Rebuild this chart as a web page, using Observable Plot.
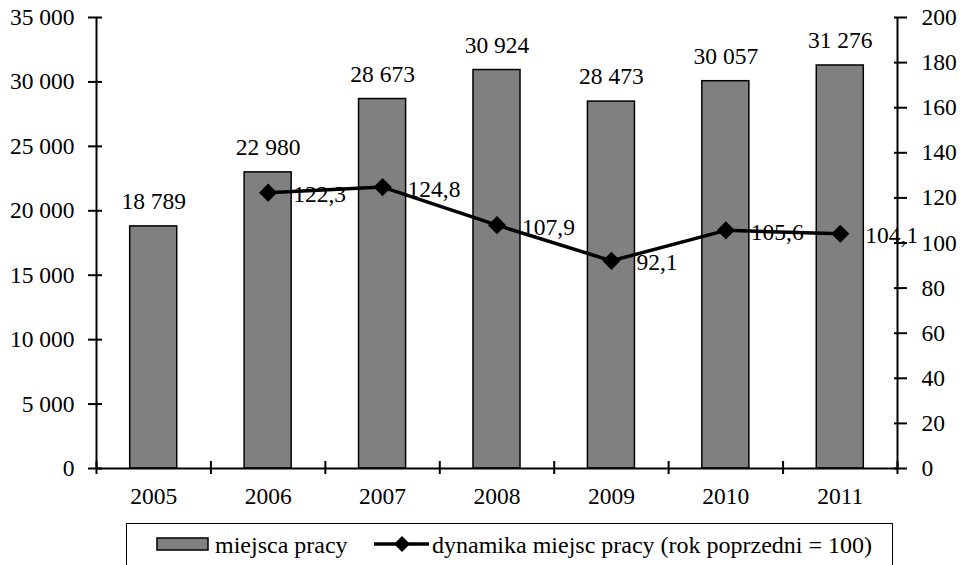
<!DOCTYPE html>
<html>
<head>
<meta charset="utf-8">
<script src="https://cdn.jsdelivr.net/npm/d3@7"></script>
<script src="https://cdn.jsdelivr.net/npm/@observablehq/plot@0.6"></script>
<style>
  html, body { margin: 0; padding: 0; background: #fff; font-family: 'Liberation Serif', 'Times New Roman', Times, serif; }
  #wrap { position: relative; width: 963px; height: 565px; overflow: hidden; font-family: 'Liberation Serif', 'Times New Roman', Times, serif; }
  #chart svg, #chart svg text { font-family: 'Liberation Serif', 'Times New Roman', Times, serif !important; }
  #legend { position: absolute; left: 126px; top: 523px; width: 767px; height: 60px; border: 1.5px solid #000; box-sizing: border-box; }
  #legend .item { position: absolute; top: 7px; font-size: 24px; line-height: 28px; white-space: nowrap; color: #000; font-family: 'Liberation Serif', 'Times New Roman', Times, serif; }
  #legend svg { position: absolute; }
</style>
</head>
<body>
<div id="wrap">
  <div id="chart"></div>
  <div id="legend">
    <svg style="left:29px;top:13px" width="54" height="16"><rect x="1" y="1" width="51" height="12" fill="#808080" stroke="#000" stroke-width="1.5"/></svg>
    <span class="item" style="left:88px">miejsca pracy</span>
    <svg style="left:247px;top:9px" width="56" height="24"><line x1="0" y1="11" x2="55" y2="11" stroke="#000" stroke-width="3.5"/><path d="M28,3 L36,11 L28,19 L20,11 Z" fill="#000"/></svg>
    <span class="item" style="left:305px">dynamika miejsc pracy (rok poprzedni = 100)</span>
  </div>
</div>
<script>
const years = [2005, 2006, 2007, 2008, 2009, 2010, 2011];
const jobs = [18789, 22980, 28673, 30924, 28473, 30057, 31276];
const dynYears = [2006, 2007, 2008, 2009, 2010, 2011];
const dynamics = [122.3, 124.8, 107.9, 92.1, 105.6, 104.1];
const leftTicks = [0, 5000, 10000, 15000, 20000, 25000, 30000, 35000];
const rightTicks = [0, 20, 40, 60, 80, 100, 120, 140, 160, 180, 200];

const leftMax = 35000, rightMax = 200;
const ratio = leftMax / rightMax;

const pl = d3.formatLocale({decimal: ",", thousands: " ", grouping: [3], currency: ["", ""]});
const fmtInt = pl.format(",d");
const fmtDec = pl.format(".1f");

const jobsData = years.map((year, i) => ({year, jobs: jobs[i]}));
const dynData = dynYears.map((year, i) => ({year, dyn: dynamics[i]}));
const boundaries = [years[0] - 0.5, ...years.map(y => y + 0.5)];

const font = "'Liberation Serif', 'Times New Roman', Times, serif";
const fs = 23.5;

const chart = Plot.plot({
  width: 963,
  height: 520,
  marginLeft: 96,
  marginRight: 66,
  marginTop: 17,
  marginBottom: 52,
  style: {fontFamily: font, fontSize: fs + "px", background: "#fff", color: "#000"},
  x: {type: "linear", domain: [years[0] - 0.5, years[years.length - 1] + 0.5]},
  y: {domain: [0, leftMax], label: null},
  marks: [
    Plot.rectY(jobsData, {x1: d => d.year - 0.5, x2: d => d.year + 0.5, y: "jobs", insetLeft: 33.7, insetRight: 33.7, fill: "#808080", stroke: "#000", strokeWidth: 1.5}),
    Plot.text(jobsData, {x: "year", y: "jobs", text: d => fmtInt(d.jobs), dy: -25, fontSize: fs, fontFamily: font, fill: "#000"}),
    Plot.ruleX([boundaries[0], boundaries[boundaries.length - 1]], {stroke: "#000", strokeWidth: 2}),
    Plot.ruleY([0], {stroke: "#000", strokeWidth: 2}),
    Plot.axisY({ticks: leftTicks, tickSize: 14, dx: 6, tickFormat: () => "", strokeWidth: 2, label: null}),
    Plot.axisY({ticks: leftTicks, tickSize: 0, tickPadding: 22, tickFormat: d => fmtInt(d), fontSize: fs, fontFamily: font, label: null}),
    Plot.axisY({anchor: "right", ticks: rightTicks.map(v => v * ratio), tickSize: 13, dx: -4, tickFormat: () => "", strokeWidth: 2, label: null}),
    Plot.axisY({anchor: "right", ticks: rightTicks.map(v => v * ratio), tickSize: 0, tickPadding: 24, tickFormat: d => String(Math.round(d / ratio)), fontSize: fs, fontFamily: font, label: null}),
    Plot.axisX({ticks: boundaries, tickSize: 13, dy: -7, tickFormat: () => "", strokeWidth: 2, label: null}),
    Plot.axisX({ticks: years, tickSize: 0, tickPadding: 19, tickFormat: d => String(d), fontSize: fs, fontFamily: font, label: null}),
    Plot.line(dynData, {x: "year", y: d => d.dyn * ratio, stroke: "#000", strokeWidth: 3.5}),
    Plot.dot(dynData, {x: "year", y: d => d.dyn * ratio, symbol: "diamond2", r: 8.2, fill: "#000", stroke: "none"}),
    Plot.text(dynData, {x: "year", y: d => d.dyn * ratio, text: d => fmtDec(d.dyn), dx: 25, dy: 2, textAnchor: "start", fontSize: fs, fontFamily: font, fill: "#000"})
  ]
});
document.getElementById("chart").appendChild(chart);
</script>
</body>
</html>
